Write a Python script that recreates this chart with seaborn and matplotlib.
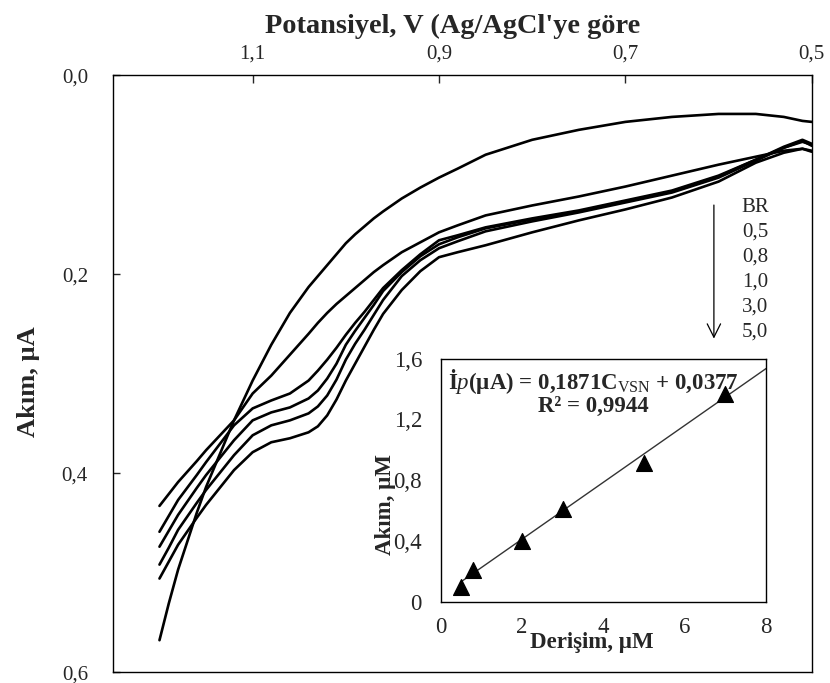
import numpy as np
import pandas as pd
import matplotlib
matplotlib.use("Agg")
import matplotlib.pyplot as plt
import seaborn as sns

# potential axis (V vs Ag/AgCl)
potential = [1.20, 1.19, 1.18, 1.16, 1.15, 1.12, 1.10, 1.08, 1.06, 1.04, 1.03, 1.02, 1.01,
             1.00, 0.99, 0.98, 0.97, 0.96, 0.94, 0.92, 0.90, 0.88, 0.85, 0.80, 0.75, 0.70,
             0.65, 0.60, 0.56, 0.53, 0.51, 0.50]

# current (uA)
cur_br = [0.568, 0.531, 0.497, 0.440, 0.414, 0.347, 0.307, 0.271, 0.239, 0.213, 0.202, 0.191,
          0.180, 0.169, 0.160, 0.152, 0.144, 0.137, 0.124, 0.113, 0.103, 0.094, 0.080, 0.065,
          0.055, 0.047, 0.042, 0.039, 0.039, 0.042, 0.046, 0.047]
cur_05 = [0.433, 0.421, 0.409, 0.388, 0.377, 0.347, 0.320, 0.302, 0.281, 0.260, 0.249, 0.239,
          0.230, 0.222, 0.214, 0.206, 0.198, 0.191, 0.178, 0.168, 0.158, 0.151, 0.141, 0.131,
          0.122, 0.112, 0.101, 0.090, 0.082, 0.076, 0.074, 0.076]
cur_08 = [0.459, 0.443, 0.427, 0.402, 0.389, 0.352, 0.335, 0.327, 0.320, 0.307, 0.297, 0.286,
          0.274, 0.261, 0.249, 0.238, 0.226, 0.214, 0.196, 0.180, 0.166, 0.161, 0.153, 0.144,
          0.136, 0.126, 0.116, 0.101, 0.085, 0.073, 0.067, 0.070]
cur_10 = [0.474, 0.458, 0.442, 0.415, 0.402, 0.367, 0.347, 0.339, 0.334, 0.325, 0.317, 0.305,
          0.290, 0.271, 0.257, 0.244, 0.231, 0.217, 0.198, 0.182, 0.170, 0.163, 0.154, 0.145,
          0.137, 0.127, 0.117, 0.102, 0.085, 0.072, 0.065, 0.069]
cur_30 = [0.492, 0.475, 0.457, 0.430, 0.417, 0.382, 0.362, 0.352, 0.347, 0.340, 0.333, 0.322,
          0.306, 0.286, 0.270, 0.256, 0.241, 0.226, 0.202, 0.186, 0.174, 0.167, 0.157, 0.147,
          0.138, 0.128, 0.118, 0.103, 0.086, 0.073, 0.066, 0.071]
cur_50 = [0.506, 0.489, 0.472, 0.445, 0.432, 0.397, 0.379, 0.369, 0.365, 0.359, 0.353, 0.342,
          0.326, 0.307, 0.290, 0.273, 0.256, 0.240, 0.216, 0.197, 0.183, 0.178, 0.171, 0.158,
          0.146, 0.135, 0.123, 0.107, 0.088, 0.078, 0.074, 0.077]

series_labels = ["BR", "0,5", "0,8", "1,0", "3,0", "5,0"]

# calibration inset
conc = [0.5, 0.8, 2.0, 3.0, 5.0, 7.0]
peak_current = [0.10, 0.21, 0.40, 0.61, 0.91, 1.37]
fit_slope = 0.1871
fit_intercept = 0.0377
r_squared = 0.9944

top_ticks = [1.1, 0.9, 0.7, 0.5]
left_ticks = [0.0, 0.2, 0.4, 0.6]
inset_xticks = [0, 2, 4, 6, 8]
inset_yticks = [0, 0.4, 0.8, 1.2, 1.6]


def comma(v, nd):
    return f"{v:.{nd}f}".replace(".", ",")


sns.set_style("white")
plt.rcParams['font.family'] = ['Liberation Serif', 'DejaVu Serif']
plt.rcParams['mathtext.fontset'] = 'custom'
plt.rcParams['mathtext.rm'] = 'Liberation Serif'
plt.rcParams['mathtext.it'] = 'Liberation Serif:italic'
plt.rcParams['mathtext.bf'] = 'Liberation Serif:bold'

all_curves = [cur_br, cur_05, cur_08, cur_10, cur_30, cur_50]
df = pd.concat([
    pd.DataFrame({"V": potential, "I": c, "sample": lab})
    for c, lab in zip(all_curves, series_labels)
])

fig = plt.figure(figsize=(8.3, 6.83), dpi=100)
ax = fig.add_axes([0.136, 0.016, 0.842, 0.874])

sns.lineplot(data=df, x="V", y="I", hue="sample", units="sample", estimator=None,
             sort=False, palette={l: "black" for l in series_labels}, linewidth=1.9,
             legend=False, ax=ax)

ax.set_xlim(1.25, 0.5)
ax.set_ylim(0.6, 0.0)
for sp in ax.spines.values():
    sp.set_color("black")
    sp.set_linewidth(1.0)

ax.xaxis.tick_top()
ax.xaxis.set_label_position("top")
ax.set_xticks(top_ticks)
ax.set_xticklabels([comma(t, 1) for t in top_ticks])
ax.tick_params(axis="x", direction="in", length=6, width=1, top=True, bottom=False,
               labeltop=True, labelbottom=False, labelsize=15, pad=8)
ax.set_yticks(left_ticks)
ax.set_yticklabels([comma(t, 1) for t in left_ticks])
ax.tick_params(axis="y", direction="in", length=5, width=1, left=True, labelsize=15, pad=18)

ax.set_xlabel("Potansiyel, V (Ag/AgCl'ye göre", fontsize=20.4, fontweight="bold")
ax.xaxis.set_label_coords(0.486, 1.07)
ax.set_ylabel("Akım, µA", fontsize=19, fontweight="bold")
ax.yaxis.set_label_coords(-0.104, 0.486)

# arrow + concentration list
ax.annotate("", xy=(0.86, 0.554), xytext=(0.86, 0.787), xycoords="axes fraction",
            arrowprops=dict(arrowstyle="->", color="black", lw=0.9, mutation_scale=24))
for i, lab in enumerate(series_labels):
    ax.text(0.900, 0.779 - i * 0.0419, lab, transform=ax.transAxes, fontsize=15,
            ha="left", va="center")

# inset
ins = fig.add_axes([0.531, 0.119, 0.392, 0.356])
ins.set_facecolor("white")
fit_x = np.array([conc[0], inset_xticks[-1]])
sns.lineplot(x=fit_x, y=fit_slope * fit_x + fit_intercept, color="#333333", linewidth=1.0, ax=ins)
sns.scatterplot(x=conc, y=peak_current, marker="^", s=130, color="black",
                edgecolor="black", zorder=3, ax=ins)
ins.set_xlim(0, 8)
ins.set_ylim(0, 1.6)
ins.set_xticks(inset_xticks)
ins.set_xticklabels([str(t) for t in inset_xticks])
ins.set_yticks(inset_yticks)
ins.set_yticklabels(["0"] + [comma(t, 1) for t in inset_yticks[1:]])
ins.tick_params(axis="y", direction="in", length=5, width=1, labelsize=16.5, pad=13.5)
ins.tick_params(axis="x", direction="in", length=5, width=1, labelsize=16.5, pad=11)
for sp in ins.spines.values():
    sp.set_color("black")
    sp.set_linewidth(1.0)
ins.set_xlabel("Derişim, µM", fontsize=16.5, fontweight="bold")
ins.xaxis.set_label_coords(0.465, -0.125)
ins.set_ylabel("Akım, µM", fontsize=16.5, fontweight="bold")
ins.yaxis.set_label_coords(-0.138, 0.40)

ins.text(0.47, 0.905, "İ$\\mathit{p}$(µA) = " + comma(fit_slope, 4) + "C$_{\\mathrm{VSN}}$ + "
         + comma(fit_intercept, 4), transform=ins.transAxes, fontsize=16.5, fontweight="bold",
         ha="center", va="center")
ins.text(0.47, 0.805, "R² = " + comma(r_squared, 4), transform=ins.transAxes, fontsize=16.5,
         fontweight="bold", ha="center", va="center")

fig.savefig("out.png", dpi=100)
